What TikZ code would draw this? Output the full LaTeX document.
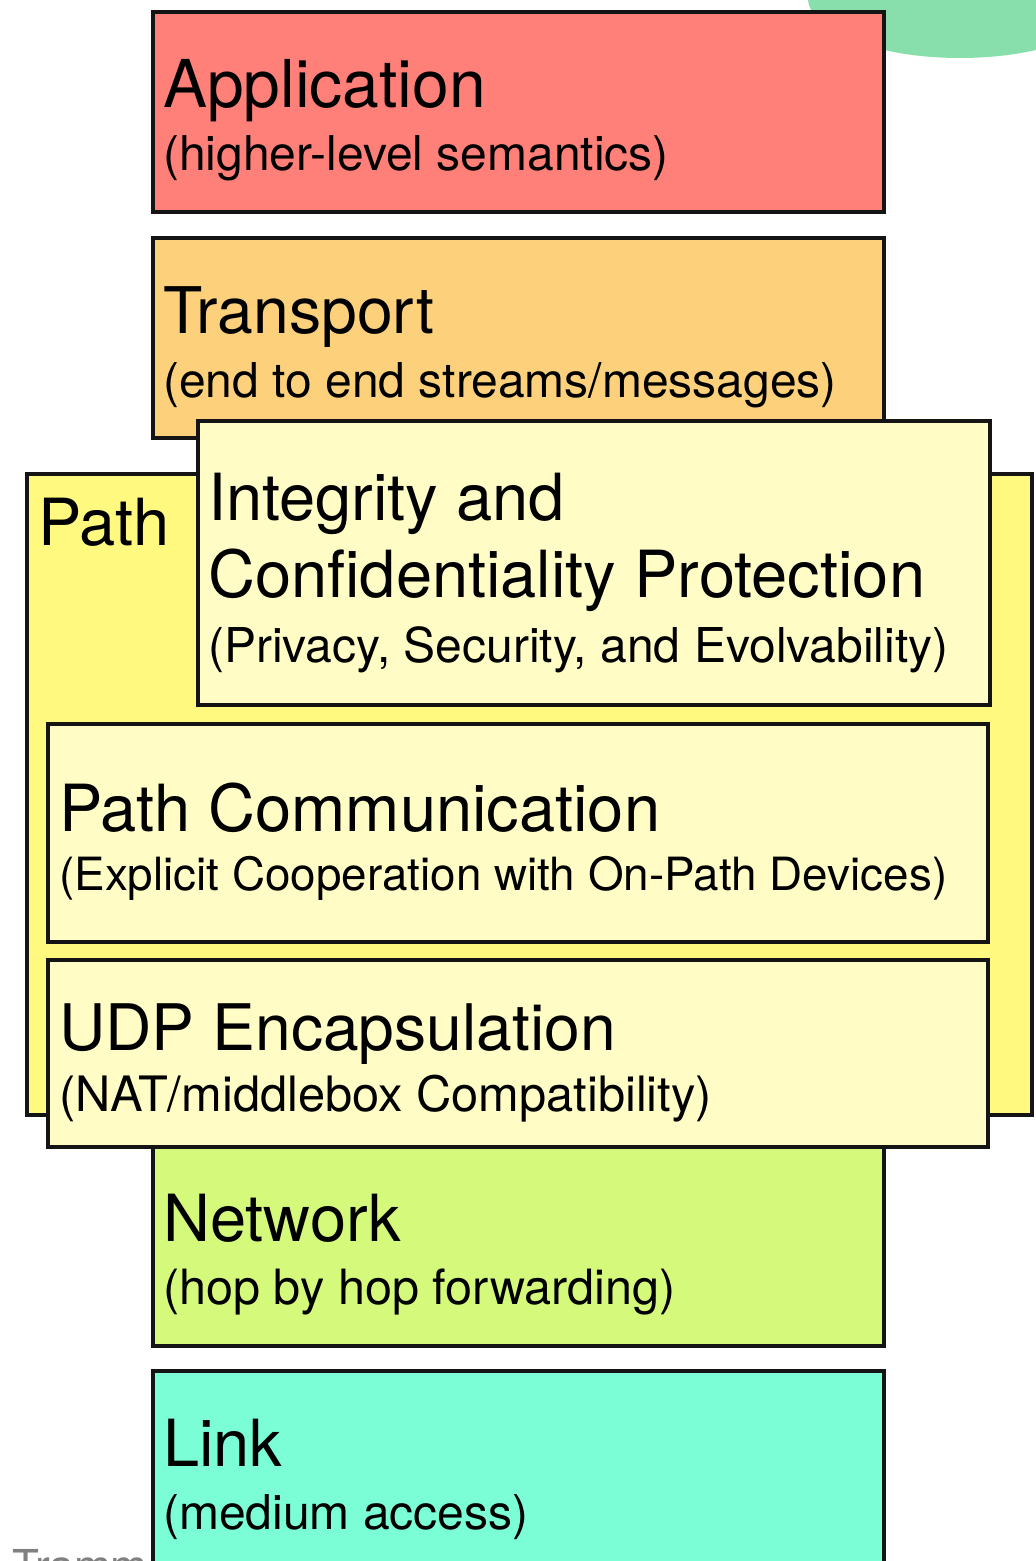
\documentclass[tikz,border=0pt]{standalone}
\usepackage{fontspec}
\setmainfont{TeX Gyre Heros}
\definecolor{appc}{HTML}{FF7F79}
\definecolor{trc}{HTML}{FDD17C}
\definecolor{pathc}{HTML}{FFFA7F}
\definecolor{lightc}{HTML}{FFFDC5}
\definecolor{netc}{HTML}{D5F97A}
\definecolor{linkc}{HTML}{7BFDD6}
\definecolor{blobc}{HTML}{88DFAB}
\begin{document}
\begin{tikzpicture}[x=1pt,y=-1pt,
  box/.style={draw=black!92, line width=4.5pt, rectangle, inner sep=0pt},
  ttl/.style={anchor=base west, inner sep=0pt, font=\fontsize{65}{70}\selectfont},
  sub/.style={anchor=base west, inner sep=0pt, font=\fontsize{48}{52}\selectfont}]
\useasboundingbox (0,0) rectangle (1036,1561);
\begin{scope}
\clip (0,0) rectangle (1036,1561);
\fill[blobc] (960,-2) ellipse [x radius=152, y radius=60];
\node[anchor=base west, inner sep=0pt, text=black!50, font=\fontsize{44}{48}\selectfont] (tr) at (12,1581) {Trammell};
% boxes
\draw[box, fill=appc] (153,12) rectangle (884,212);
\draw[box, fill=trc] (153,238) rectangle (884,438);
\draw[box, fill=pathc] (27,474) rectangle (1032,1115);
\draw[box, fill=netc] (153,1140) rectangle (884,1346);
\draw[box, fill=linkc] (153,1371) rectangle (884,1600);
\draw[box, fill=lightc] (198,421) rectangle (990,705);
\draw[box, fill=lightc] (48,724) rectangle (988,942);
\draw[box, fill=lightc] (48,960) rectangle (988,1147);
% labels
\node[ttl, font=\fontsize{66}{70}\selectfont] (appt) at (163,107) {Application};
\node[sub] (apps) at (163,170) {(higher-level semantics)};
\node[ttl, font=\fontsize{64.3}{70}\selectfont] (trt) at (163,333) {Transport};
\node[sub] (trs) at (163,397) {(end to end streams/messages)};
\node[ttl] (patht) at (38,545) {Path};
\node[ttl] (intt) at (208,520) {Integrity and};
\node[ttl] (intt2) at (208,597) {Confidentiality Protection};
\node[sub] (ints) at (208,662) {(Privacy, Security, and Evolvability)};
\node[ttl] (pct) at (59,831) {Path Communication};
\node[sub, font=\fontsize{45.8}{50}\selectfont] (pcs) at (59,890) {(Explicit Cooperation with On-Path Devices)};
\node[ttl, font=\fontsize{64.2}{70}\selectfont] (udpt) at (59,1050) {UDP Encapsulation};
\node[sub, font=\fontsize{48.8}{52}\selectfont] (udps) at (59,1111) {(NAT/middlebox Compatibility)};
\node[ttl] (nett) at (163,1241) {Network};
\node[sub, font=\fontsize{48.6}{52}\selectfont] (nets) at (163,1304) {(hop by hop forwarding)};
\node[ttl] (linkt) at (163,1466) {Link};
\node[sub] (links) at (163,1529) {(medium access)};
\end{scope}
\end{tikzpicture}
\end{document}
